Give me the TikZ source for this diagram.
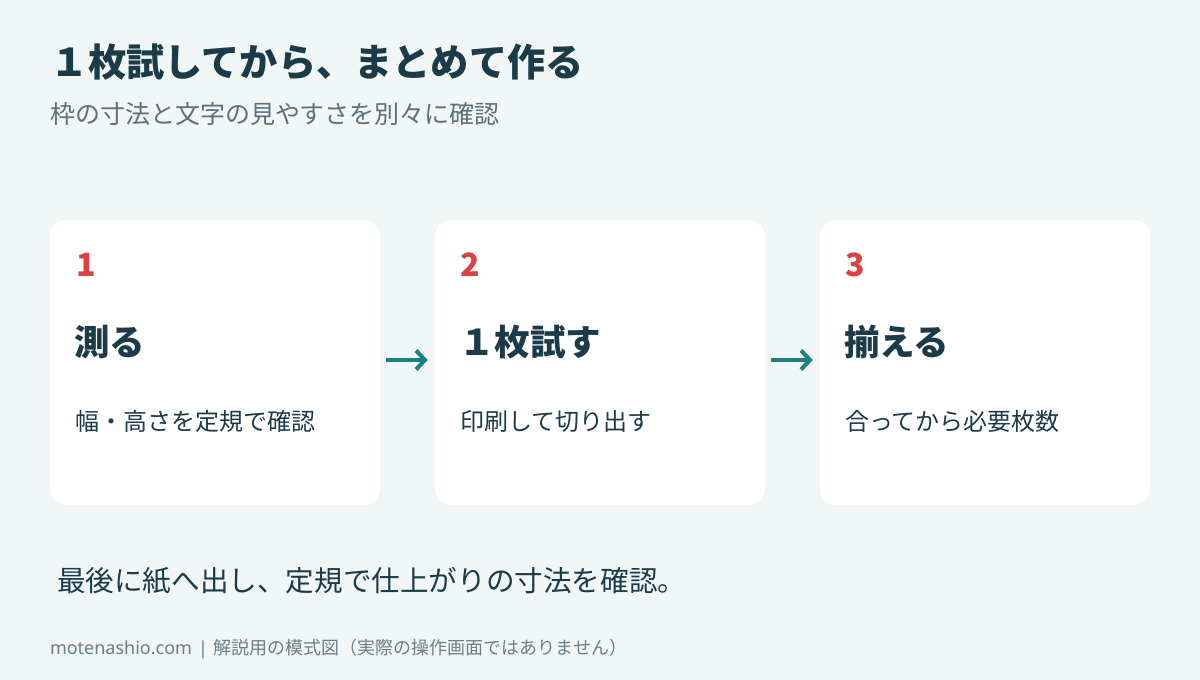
\documentclass[tikz,border=0pt]{standalone}
\usepackage{fontspec}
\setmainfont{Noto Sans CJK JP}
\newfontfamily\latinsans{Noto Sans}
\usetikzlibrary{arrows.meta}
\definecolor{bgc}{HTML}{F1F6F6}
\definecolor{darkc}{HTML}{1C3B49}
\definecolor{subc}{HTML}{5B717D}
\definecolor{redc}{HTML}{E0403F}
\definecolor{tealc}{HTML}{1E7F84}
\definecolor{notec}{HTML}{6C7E87}
\tikzset{
  txt/.style={anchor=west, inner sep=0pt, outer sep=0pt},
  titletxt/.style={txt, text=darkc, font=\fontsize{38.2}{40}\selectfont\bfseries},
  subtxt/.style={txt, text=subc, font=\fontsize{25}{28}\selectfont},
  card/.style={fill=white, rounded corners=16pt, minimum width=330pt, minimum height=285pt, inner sep=0pt, draw=none},
  numtxt/.style={txt, text=redc, font=\fontsize{32}{34}\selectfont\bfseries},
  headtxt/.style={txt, text=darkc, font=\fontsize{35.5}{38}\selectfont\bfseries},
  desctxt/.style={txt, text=darkc, font=\fontsize{24}{26}\selectfont},
  bottomtxt/.style={txt, text=darkc, font=\fontsize{28.6}{32}\selectfont},
  notetxt/.style={txt, text=notec, font=\fontsize{18}{20}\selectfont},
  arr/.style={draw=tealc, line width=4pt, -{Straight Barb[length=9pt,width=19pt]}}
}
\begin{document}
\begin{tikzpicture}[x=1pt,y=-1pt]
\fill[bgc] (0,0) rectangle (1200,680);
\useasboundingbox (0,0) rectangle (1200,680);

\node[titletxt] (title) at (50,62) {１枚試してから、まとめて作る};
\node[subtxt] (sub) at (50,114) {枠の寸法と文字の見やすさを別々に確認};

\node[card] (c1) at (215,362.5) {};
\node[card] (c2) at (600,362.5) {};
\node[card] (c3) at (985,362.5) {};

\node[numtxt] (n1) at (76,265) {1};
\node[headtxt] (h1) at (74,342) {測る};
\node[desctxt] (d1) at (75,421) {幅・高さを定規で確認};

\node[numtxt] (n2) at (460,265) {2};
\node[headtxt] (h2) at (459,342) {１枚試す};
\node[desctxt] (d2) at (460,421) {印刷して切り出す};

\node[numtxt] (n3) at (845,265) {3};
\node[headtxt] (h3) at (844,342) {揃える};
\node[desctxt] (d3) at (845,421) {合ってから必要枚数};

\draw[arr, shorten <=6pt, shorten >=7pt] ([yshift=2.5pt]c1.east) -- ([yshift=2.5pt]c2.west);
\draw[arr, shorten <=6pt, shorten >=7pt] ([yshift=2.5pt]c2.east) -- ([yshift=2.5pt]c3.west);

\node[bottomtxt] (bottom) at (57,581) {最後に紙へ出し、定規で仕上がりの寸法を確認。};
\node[notetxt] (note) at (50,649) {{\latinsans motenashio.com\hspace{6pt}|\hspace{6pt}}解説用の模式図（実際の操作画面ではありません）};
\end{tikzpicture}
\end{document}
